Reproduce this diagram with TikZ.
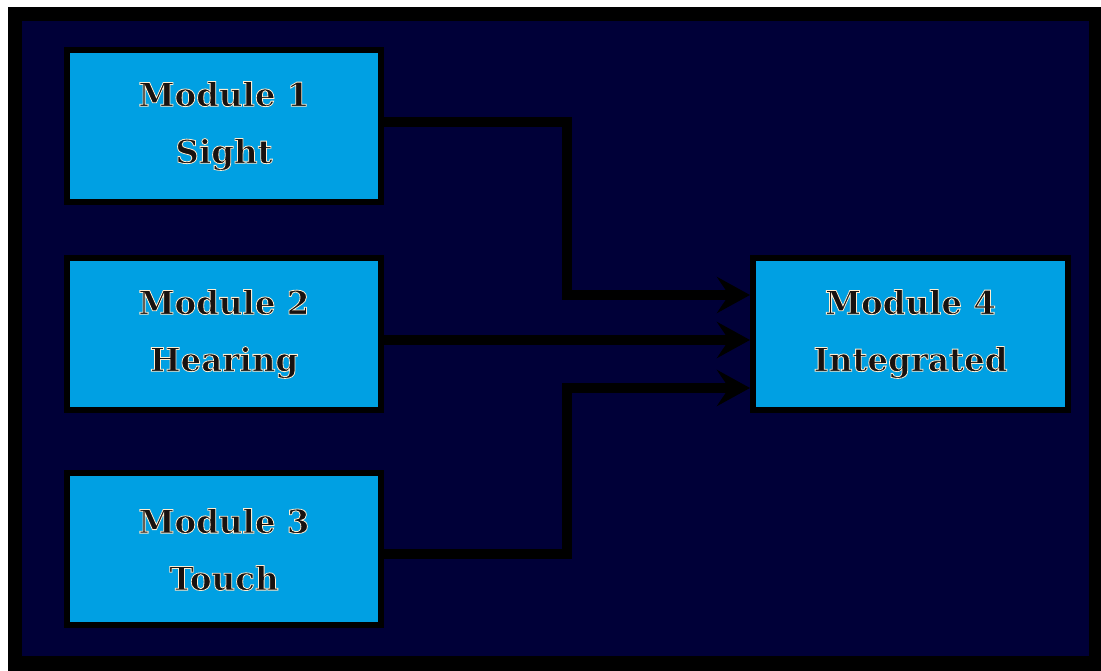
\documentclass[tikz,border=0pt]{standalone}
\usepackage{fontspec}
\setmainfont{DejaVu Serif}
\usetikzlibrary{arrows.meta}
\definecolor{navy}{RGB}{0,0,56}
\definecolor{modblue}{RGB}{0,160,227}
\definecolor{ink}{RGB}{24,18,16}
% dark glyphs with a thin cream edge (fill, then stroke)
\newcommand{\edged}[1]{\special{pdf:literal direct 2 Tr 0.8 w 1 0.93 0.82 RG}#1\special{pdf:literal direct 0 Tr}}
\tikzset{
  module/.style={draw=black, line width=6pt, fill=modblue,
    minimum width=314pt, minimum height=152pt, align=center,
    text=ink, font=\fontsize{32.5}{57}\selectfont\bfseries, inner sep=0pt},
  conn/.style={draw=black, line width=10pt,
    -{Stealth[length=33pt, width=36pt, inset=12pt]}}
}
\begin{document}
\begin{tikzpicture}[x=1pt, y=1pt]
  \useasboundingbox (0,0) rectangle (1101,671);
  % frame and background panel
  \fill[white] (0,0) rectangle (1101,671);
  \fill[black] (8,0) rectangle (1101,664);
  \fill[navy] (22,15) rectangle (1089,650);

  % modules
  \node[module] (m1) at (224,545) {\edged{Module 1}\\\edged{Sight}};
  \node[module] (m2) at (224,337) {\edged{Module 2}\\\edged{Hearing}};
  \node[module] (m3) at (224,121.5) {\edged{Module 3}\\\edged{Touch}};
  \node[module, minimum width=315pt] (m4) at (910.5,337) {\edged{Module 4}\\\edged{Integrated}};

  % connectors into the integrating module
  \coordinate (j1) at (567,549);
  \coordinate (j3) at (567,117);
  \draw[conn] (m1.east |- j1) -- (j1) |- ([yshift=39pt]m4.west);
  \draw[conn] ([yshift=-6pt]m2.east) -- ([yshift=-6pt]m4.west);
  \draw[conn] (m3.east |- j3) -- (j3) |- ([yshift=-54pt]m4.west);
\end{tikzpicture}
\end{document}
